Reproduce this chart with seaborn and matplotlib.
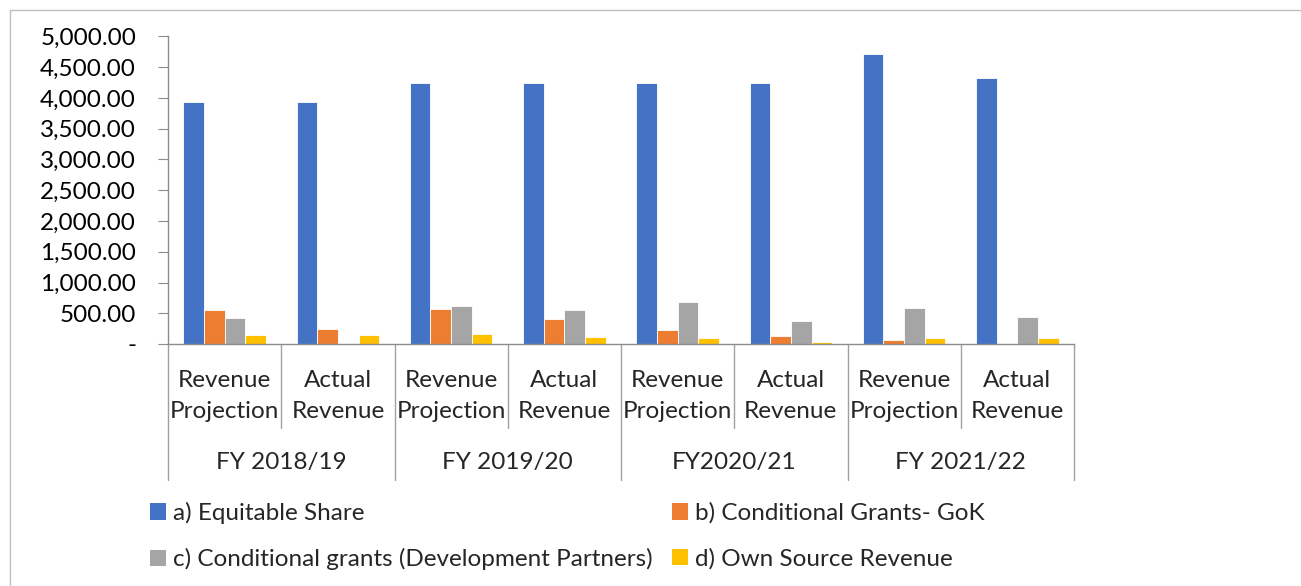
import matplotlib
matplotlib.use("Agg")
import matplotlib.pyplot as plt
import matplotlib.transforms as mtransforms
from matplotlib.lines import Line2D
from matplotlib.patches import Patch
import seaborn as sns
import pandas as pd

fiscal_years = ["FY 2018/19", "FY 2019/20", "FY2020/21", "FY 2021/22"]
sub_labels = ["Revenue\nProjection", "Actual\nRevenue"]
categories = ["FY18 Proj", "FY18 Act", "FY19 Proj", "FY19 Act",
              "FY20 Proj", "FY20 Act", "FY21 Proj", "FY21 Act"]
series_names = ["a) Equitable Share", "b) Conditional Grants- GoK",
                "c) Conditional grants (Development Partners)", "d) Own Source Revenue"]
equitable_share = [3930, 3930, 4240, 4240, 4240, 4240, 4710, 4330]
conditional_gok = [556, 242, 577, 407, 231, 127, 60, 0]
conditional_dp = [430, 0, 615, 549, 687, 373, 593, 445]
own_source = [143, 153, 165, 115, 104, 33, 104, 99]
y_ticks = [0, 500, 1000, 1500, 2000, 2500, 3000, 3500, 4000, 4500, 5000]

colors = ["#4472C4", "#ED7D31", "#A5A5A5", "#FFC000"]

rows = []
for name, vals in zip(series_names, [equitable_share, conditional_gok, conditional_dp, own_source]):
    for c, v in zip(categories, vals):
        rows.append({"category": c, "series": name, "value": v})
df = pd.DataFrame(rows)

sns.set_style("white")
plt.rcParams["font.family"] = ["Lato", "DejaVu Sans"]
FS = 17.5

fig = plt.figure(figsize=(13.01, 5.86), dpi=100)
ax = fig.add_axes([168 / 1301, 1 - 344 / 586, (1074 - 168) / 1301, (344 - 36.5) / 586])

sns.barplot(data=df, x="category", y="value", hue="series", order=categories,
            hue_order=series_names, palette=colors, saturation=1, width=0.73, ax=ax,
            edgecolor="white", linewidth=0.6, legend=False)

ax.set_xlim(-0.5, len(categories) - 0.5)
ax.set_ylim(0, 5000)
ax.set_yticks(y_ticks)
ax.set_yticklabels(["-" if t == 0 else f"{t:,.2f}" for t in y_ticks], fontsize=FS)
ax.set_xticks([])
ax.set_xlabel("")
ax.set_ylabel("")
for s in ["top", "right"]:
    ax.spines[s].set_visible(False)
for s in ["left", "bottom"]:
    ax.spines[s].set_color("#8C8C8C")
    ax.spines[s].set_linewidth(1.0)
ax.tick_params(axis="y", left=True, length=7, color="#8C8C8C", pad=16, labelcolor="black")

trans = mtransforms.blended_transform_factory(ax.transData, ax.transAxes)
axh = 344 - 36.5
inner_bottom = -(428 - 344) / axh
outer_bottom = -(480 - 344) / axh
for i in range(len(categories) + 1):
    xb = i - 0.5
    yb = outer_bottom if i % 2 == 0 else inner_bottom
    ax.plot([xb, xb], [0, yb], transform=trans, color="#A0A0A0", lw=1.0, clip_on=False)

for i, c in enumerate(categories):
    ax.text(i, -(396 - 344) / axh, sub_labels[i % 2], transform=trans, ha="center",
            va="center", fontsize=FS, linespacing=1.6)
for j, fy in enumerate(fiscal_years):
    ax.text(2 * j + 0.5, -(463 - 344) / axh, fy, transform=trans, ha="center",
            va="center", fontsize=FS)

handles = [Patch(facecolor=col, edgecolor="none") for col in colors]
order = [0, 2, 1, 3]
fig.legend([handles[k] for k in order], [series_names[k] for k in order], ncol=2,
           loc="upper left", bbox_to_anchor=(128 / 1301, 1 - 480 / 586), frameon=False,
           fontsize=FS, handlelength=0.65, handleheight=0.65, handletextpad=0.3,
           columnspacing=0.8, labelspacing=1.0)

fig.add_artist(Line2D([10 / 1301, 10 / 1301], [0, 1 - 10 / 586], transform=fig.transFigure,
                      color="#C0C0C0", lw=1.0))
fig.add_artist(Line2D([10 / 1301, 1], [1 - 10 / 586, 1 - 10 / 586], transform=fig.transFigure,
                      color="#C0C0C0", lw=1.0))

fig.savefig("out.png", dpi=100)
